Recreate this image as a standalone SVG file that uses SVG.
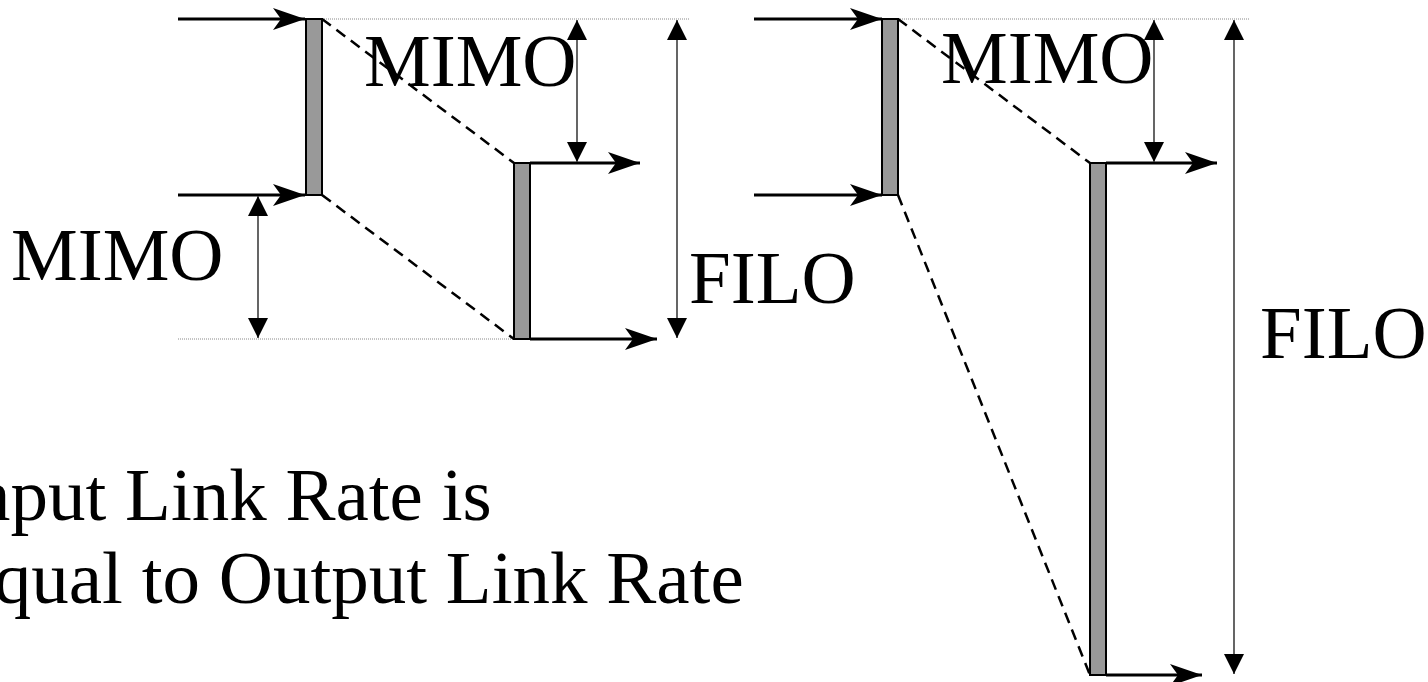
<svg xmlns="http://www.w3.org/2000/svg" width="1428" height="682" viewBox="0 0 1428 682">
<style>
.bar{fill:#999999;stroke:#000;stroke-width:2}
.flow{stroke:#000;stroke-width:3;fill:none;marker-end:url(#barb)}
.dim{stroke:#555555;stroke-width:1.8;fill:none;marker-start:url(#tri);marker-end:url(#tri)}
.dash{stroke:#000;stroke-width:2.5;stroke-dasharray:11 7;fill:none}
.dot{stroke:#888888;stroke-width:1;stroke-dasharray:1 1;fill:none}
.lbl{font-family:"Liberation Serif","Times New Roman",serif;font-size:75px;fill:#000}
</style>
<defs>
<marker id="barb" viewBox="-33 -12 34 24" refX="0" refY="0" markerWidth="34" markerHeight="24" markerUnits="userSpaceOnUse" orient="auto">
<path d="M0,0 L-32,-11 L-24,0 L-32,11 Z" fill="#000"/>
</marker>
<marker id="tri" viewBox="-21 -11 22 22" refX="0" refY="0" markerWidth="22" markerHeight="22" markerUnits="userSpaceOnUse" orient="auto-start-reverse">
<path d="M0,0 L-20,-10 L-20,10 Z" fill="#000"/>
</marker>
</defs>
<g id="connectors">
<line class="dot" x1="322" y1="19" x2="690" y2="19"/>
<line class="dot" x1="178" y1="339" x2="514" y2="339"/>
<line class="dot" x1="898" y1="19" x2="1250" y2="19"/>
<line class="dash" x1="322" y1="19" x2="514" y2="163"/>
<line class="dash" x1="322" y1="195" x2="514" y2="339"/>
<line class="dash" x1="898" y1="19" x2="1090" y2="163"/>
<line class="dash" x1="898" y1="195" x2="1090" y2="675"/>
<line class="flow" x1="178" y1="19" x2="305" y2="19"/>
<line class="flow" x1="178" y1="195" x2="305" y2="195"/>
<line class="flow" x1="530" y1="163" x2="640" y2="163"/>
<line class="flow" x1="530" y1="339" x2="657" y2="339"/>
<line class="flow" x1="754" y1="19" x2="882" y2="19"/>
<line class="flow" x1="754" y1="195" x2="882" y2="195"/>
<line class="flow" x1="1106" y1="163" x2="1217" y2="163"/>
<line class="flow" x1="1106" y1="675" x2="1202" y2="675"/>
<line class="dim" x1="577" y1="20" x2="577" y2="162"/>
<line class="dim" x1="258" y1="196" x2="258" y2="338"/>
<line class="dim" x1="677" y1="20" x2="677" y2="338"/>
<line class="dim" x1="1154" y1="20" x2="1154" y2="162"/>
<line class="dim" x1="1234" y1="20" x2="1234" y2="674"/>
</g>
<g id="bar-in-1"><rect class="bar" x="306" y="19" width="16" height="176"/></g>
<g id="bar-out-1"><rect class="bar" x="514" y="163" width="16" height="176"/></g>
<g id="bar-in-2"><rect class="bar" x="882" y="19" width="16" height="176"/></g>
<g id="bar-out-2"><rect class="bar" x="1090" y="163" width="16" height="512"/></g>
<g id="label-mimo-1"><text class="lbl" x="364" y="86">MIMO</text></g>
<g id="label-mimo-2"><text class="lbl" x="11" y="280">MIMO</text></g>
<g id="label-filo-1"><text class="lbl" x="689" y="303">FILO</text></g>
<g id="label-mimo-3"><text class="lbl" x="941" y="83">MIMO</text></g>
<g id="label-filo-2"><text class="lbl" x="1260" y="358">FILO</text></g>
<g id="caption"><text class="lbl" x="-52" y="520">Input Link Rate is</text><text class="lbl" x="-52" y="603">Equal to Output Link Rate</text></g>
</svg>
